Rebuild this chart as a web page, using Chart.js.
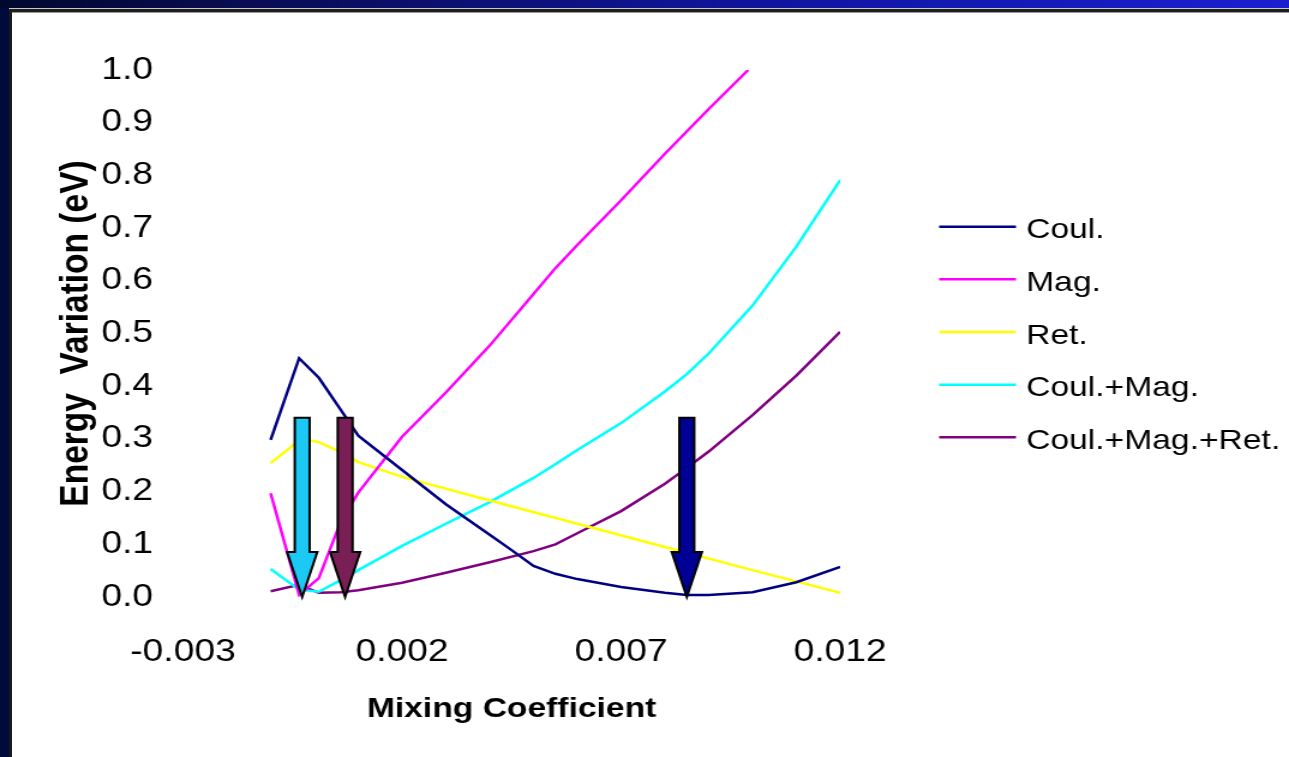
<!DOCTYPE html>
<html>
<head>
<meta charset="utf-8">
<title>Energy Variation vs Mixing Coefficient</title>
<script src="https://cdn.jsdelivr.net/npm/chart.js@4.4.1/dist/chart.umd.min.js"></script>
<style>
  html, body { margin: 0; padding: 0; width: 1289px; height: 757px; overflow: hidden; background: #000b3c; }
  #stage { position: relative; width: 1289px; height: 757px; }
  #band { position: absolute; left: 0; top: 0; width: 1289px; height: 8px;
          background: linear-gradient(to right, #00082f 0%, #0a0d58 22%, #1015a0 60%, #1b1fd0 100%); }
  #glint { position: absolute; left: 9px; top: 8px; width: 1280px; height: 1px; background: #c8c8c8; }
  #panel { position: absolute; left: 9px; top: 9px; width: 1280px; height: 748px; box-sizing: border-box;
           background: #fff; border-top: 3px solid #1e1e1e; border-left: 3px solid #1a1a1a; }
  #panel::before { content: ""; position: absolute; left: 0; top: 0; right: 0; height: 1px; background: #9a9a9a; }
  #plot { position: absolute; left: 0; top: 0; }
</style>
</head>
<body>
<div id="stage">
  <div id="band"></div>
  <div id="glint"></div>
  <div id="panel"></div>
  <!-- drawn on a narrower bitmap and widened by CSS, like a stretched slide -->
  <canvas id="plot" width="1074" height="757" style="width:1289px;height:757px"></canvas>
</div>
<script>
// ---- axis ticks ----
const xTickValues = [-0.003, 0.002, 0.007, 0.012];
const yTickValues = [0, 0.1, 0.2, 0.3, 0.4, 0.5, 0.6, 0.7, 0.8, 0.9, 1.0];

// ---- series ----
const seriesNames = ['Coul.', 'Mag.', 'Ret.', 'Coul.+Mag.', 'Coul.+Mag.+Ret.'];

const coulX = [-0.001, -0.00035, 0.0001, 0.0006, 0.001, 0.002, 0.003, 0.004, 0.0045, 0.005, 0.0055, 0.006, 0.007, 0.008, 0.0085, 0.009, 0.010, 0.011, 0.012];
const coulY = [0.298, 0.453, 0.416, 0.355, 0.306, 0.241, 0.176, 0.118, 0.089, 0.059, 0.044, 0.034, 0.019, 0.008, 0.004, 0.004, 0.009, 0.028, 0.057];

const magX = [-0.001, -0.00035, 0.0001, 0.0006, 0.001, 0.002, 0.003, 0.004, 0.005, 0.0055, 0.006, 0.007, 0.008, 0.009, 0.0099];
const magY = [0.197, 0.004, 0.036, 0.143, 0.198, 0.304, 0.388, 0.477, 0.575, 0.624, 0.668, 0.753, 0.841, 0.926, 1.0];

const retX = [-0.001, -0.0003, 0.0001, 0.0006, 0.001, 0.002, 0.004, 0.006, 0.008, 0.010, 0.012];
const retY = [0.254, 0.300, 0.294, 0.275, 0.256, 0.228, 0.183, 0.139, 0.095, 0.051, 0.008];

const coulMagX = [-0.001, -0.00035, 0.0001, 0.0006, 0.001, 0.002, 0.003, 0.004, 0.005, 0.0055, 0.006, 0.007, 0.008, 0.0085, 0.009, 0.010, 0.011, 0.012];
const coulMagY = [0.053, 0.014, 0.010, 0.032, 0.051, 0.097, 0.139, 0.180, 0.226, 0.252, 0.279, 0.330, 0.390, 0.423, 0.462, 0.553, 0.665, 0.791];

const allX = [-0.001, -0.00035, 0.0001, 0.0006, 0.001, 0.002, 0.003, 0.004, 0.005, 0.0055, 0.006, 0.007, 0.008, 0.0085, 0.009, 0.010, 0.011, 0.012];
const allY = [0.011, 0.023, 0.008, 0.009, 0.013, 0.027, 0.046, 0.066, 0.087, 0.100, 0.121, 0.163, 0.215, 0.245, 0.276, 0.345, 0.420, 0.503];

// ---- minimum markers (arrow from top value down to bottom value) ----
const arrowX = [-0.00028, 0.0007, 0.0085];
const arrowFrom = [0.34, 0.34, 0.34];
const arrowTo = [0.0, 0.0, 0.0];

// ---- styles ----
const seriesColors = ['#000080', '#ff00ff', '#ffff00', '#00ffff', '#800080'];
const arrowColors = ['#1cc8f4', '#7a1f55', '#000094'];
const FONT = '"Liberation Sans", Arial, Helvetica, sans-serif';

Chart.defaults.font.family = FONT;
Chart.defaults.color = '#000';

function toPoints(xs, ys) {
  return xs.map((x, i) => ({ x: x, y: ys[i] }));
}

const seriesData = [
  toPoints(coulX, coulY),
  toPoints(magX, magY),
  toPoints(retX, retY),
  toPoints(coulMagX, coulMagY),
  toPoints(allX, allY)
];

// Downward arrows pointing at each curve's minimum
const arrowPlugin = {
  id: 'minimumArrows',
  afterDatasetsDraw(chart) {
    const { ctx } = chart;
    const xs = chart.scales.x, ys = chart.scales.y;
    const shaftHalf = 6.2, headHalf = 12.6, headLen = 45;
    ctx.save();
    arrowX.forEach((v, i) => {
      const cx = xs.getPixelForValue(v);
      const top = ys.getPixelForValue(arrowFrom[i]);
      const tip = ys.getPixelForValue(arrowTo[i]);
      const neck = tip - headLen;
      ctx.beginPath();
      ctx.moveTo(cx - shaftHalf, top);
      ctx.lineTo(cx + shaftHalf, top);
      ctx.lineTo(cx + shaftHalf, neck);
      ctx.lineTo(cx + headHalf, neck);
      ctx.lineTo(cx, tip);
      ctx.lineTo(cx - headHalf, neck);
      ctx.lineTo(cx - shaftHalf, neck);
      ctx.closePath();
      ctx.fillStyle = arrowColors[i];
      ctx.fill();
      ctx.lineWidth = 2;
      ctx.lineJoin = 'miter';
      ctx.strokeStyle = '#000';
      ctx.stroke();
    });
    ctx.restore();
  }
};

// Series key on the right: short line sample followed by the series name
const keyPlugin = {
  id: 'seriesKey',
  afterDraw(chart) {
    const ctx = chart.ctx;
    const left = 782.5, lineLen = 64, gap = 8.5, top = 226.7, pitch = 52.65, textDrop = 4;
    ctx.save();
    ctx.font = '28px ' + FONT;
    ctx.textBaseline = 'middle';
    ctx.textAlign = 'left';
    chart.data.datasets.forEach((ds, i) => {
      const yy = top + i * pitch;
      ctx.beginPath();
      ctx.moveTo(left, yy);
      ctx.lineTo(left + lineLen, yy);
      ctx.strokeStyle = ds.borderColor;
      ctx.lineWidth = 2.5;
      ctx.stroke();
      ctx.fillStyle = '#000';
      ctx.fillText(ds.label, left + lineLen + gap, yy + textDrop);
    });
    ctx.restore();
  }
};

new Chart(document.getElementById('plot'), {
  type: 'line',
  data: {
    datasets: seriesNames.map((name, i) => ({
      label: name,
      data: seriesData[i],
      borderColor: seriesColors[i],
      backgroundColor: seriesColors[i],
      borderWidth: 2.5,
      pointRadius: 0,
      tension: 0,
      fill: false
    }))
  },
  options: {
    responsive: false,
    devicePixelRatio: 1,
    animation: false,
    events: [],
    layout: { padding: { left: 30, right: 374, top: 70, bottom: 0 } },
    plugins: {
      legend: { display: false },
      tooltip: { enabled: false }
    },
    scales: {
      x: {
        type: 'linear',
        min: -0.003,
        max: 0.012,
        grid: { display: false, drawTicks: false },
        border: { display: false },
        afterBuildTicks: (s) => { s.ticks = xTickValues.map(v => ({ value: v })); },
        afterFit: (s) => { s.height = 160; },
        ticks: {
          autoSkip: false,
          maxRotation: 0,
          padding: 37,
          color: '#000',
          font: { size: 31 },
          callback: (v) => Number(v).toFixed(3)
        },
        title: {
          display: true,
          text: 'Mixing Coefficient',
          color: '#000',
          font: { size: 28, weight: 'bold' },
          padding: { top: 0, bottom: 31 }
        }
      },
      y: {
        type: 'linear',
        min: 0,
        max: 1,
        grid: { display: false, drawTicks: false },
        border: { display: false },
        afterBuildTicks: (s) => { s.ticks = yTickValues.map(v => ({ value: v })); },
        afterFit: (s) => { s.width = 122.5; },
        ticks: {
          padding: 25,
          color: '#000',
          font: { size: 31 },
          callback: (v) => Number(v).toFixed(1)
        },
        title: {
          display: true,
          text: 'Energy  Variation (eV)',
          color: '#000',
          font: { size: 33.5, weight: 'bold' },
          padding: { top: 14, bottom: 0 }
        }
      }
    }
  },
  plugins: [arrowPlugin, keyPlugin]
});
</script>
</body>
</html>
